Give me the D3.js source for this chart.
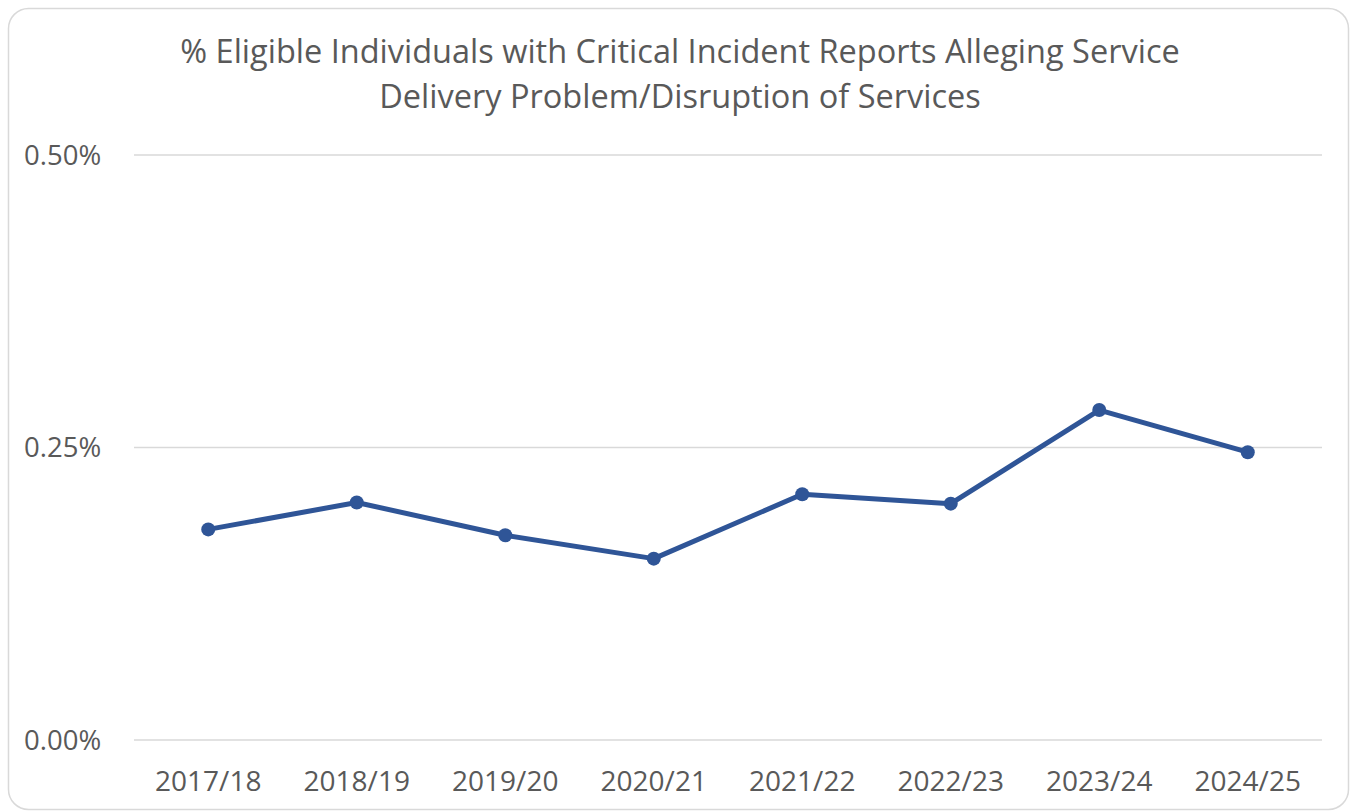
<!DOCTYPE html>
<html>
<head>
<meta charset="utf-8">
<script src="https://cdn.jsdelivr.net/npm/d3@7"></script>
<style>
  body { margin: 0; background: #fff; }
  text { font-family: "Open Sans", "Noto Sans", sans-serif; fill: #595959; }
</style>
</head>
<body>
<svg width="1354" height="811"></svg>
<script>
// chart data
var years = ["2017/18", "2018/19", "2019/20", "2020/21", "2021/22", "2022/23", "2023/24", "2024/25"];
var rates = [0.180, 0.203, 0.175, 0.155, 0.210, 0.202, 0.282, 0.246];
var yTicks = [0, 0.25, 0.5];
var titleLines = ["% Eligible Individuals with Critical Incident Reports Alleging Service",
                  "Delivery Problem/Disruption of Services"];

var svg = d3.select("svg"),
    width = +svg.attr("width"),
    height = +svg.attr("height");

// outer chart frame
svg.append("rect")
    .attr("x", 8.5).attr("y", 8.5)
    .attr("width", width - 14).attr("height", height - 10)
    .attr("rx", 20)
    .attr("fill", "#fff")
    .attr("stroke", "#d9d9d9")
    .attr("stroke-width", 1.5);

var margin = {left: 134, right: 32, top: 155, bottom: 71};

var x = d3.scalePoint()
    .domain(years)
    .range([margin.left, width - margin.right])
    .padding(0.5);

var y = d3.scaleLinear()
    .domain([0, 0.5])
    .range([height - margin.bottom, margin.top]);

// gridlines
svg.append("g")
  .selectAll("line")
  .data(yTicks)
  .enter().append("line")
    .attr("x1", margin.left)
    .attr("x2", width - margin.right)
    .attr("y1", d => y(d))
    .attr("y2", d => y(d))
    .attr("stroke", "#d9d9d9")
    .attr("stroke-width", 1.5);

// y labels
svg.append("g")
  .selectAll("text")
  .data(yTicks)
  .enter().append("text")
    .attr("x", 24)
    .attr("y", d => y(d))
    .attr("dy", "0.35em")
    .style("font-size", "27.5px")
    .text(d => d3.format(".2f")(d) + "%");

// x labels
svg.append("g")
  .selectAll("text")
  .data(years)
  .enter().append("text")
    .attr("x", d => x(d))
    .attr("y", 791)
    .attr("text-anchor", "middle")
    .style("font-size", "28px")
    .text(d => d);

// title
svg.append("g")
  .selectAll("text")
  .data(titleLines)
  .enter().append("text")
    .attr("x", 680)
    .attr("y", (d, i) => 63 + i * 45)
    .attr("text-anchor", "middle")
    .style("font-size", "32.5px")
    .text(d => d);

var line = d3.line()
    .x((d, i) => x(years[i]))
    .y(d => y(d));

svg.append("path")
    .datum(rates)
    .attr("d", line)
    .attr("fill", "none")
    .attr("stroke", "#2f5597")
    .attr("stroke-width", 5)
    .attr("stroke-linejoin", "round");

svg.append("g")
  .selectAll("circle")
  .data(rates)
  .enter().append("circle")
    .attr("cx", (d, i) => x(years[i]))
    .attr("cy", d => y(d))
    .attr("r", 7)
    .attr("fill", "#2f5597");
</script>
</body>
</html>
